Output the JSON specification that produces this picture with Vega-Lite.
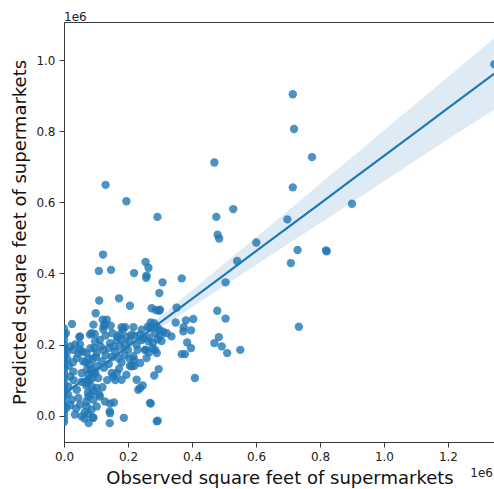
{
  "$schema": "https://vega.github.io/schema/vega-lite/v6.json",
  "width": 431,
  "height": 420,
  "autosize": {"type": "none"},
  "padding": {"left": 64, "top": 22, "right": 0, "bottom": 47},
  "config": {
    "font": "DejaVu Sans",
    "view": {"stroke": "#3a3a3a", "strokeWidth": 1},
    "axis": {
      "grid": false,
      "domainColor": "#3a3a3a",
      "tickColor": "#3a3a3a",
      "tickSize": 5,
      "labelFont": "DejaVu Sans",
      "labelFontSize": 12,
      "labelColor": "#222222",
      "labelPadding": 4,
      "labelFlush": false,
      "labelOverlap": false,
      "titleFont": "DejaVu Sans",
      "titleFontSize": 18,
      "titleFontWeight": "normal",
      "titleColor": "#111111"
    }
  },
  "title": {
    "text": "1e6",
    "anchor": "start",
    "frame": "group",
    "baseline": "alphabetic",
    "offset": 5,
    "dy": 16,
    "font": "DejaVu Sans",
    "fontSize": 12,
    "fontWeight": "normal",
    "color": "#222222"
  },
  "datasets": {
    "stores": [
      {"observed": 130000, "predicted": 649000}, {"observed": 195000, "predicted": 603000}, {"observed": 292000, "predicted": 559000},
      {"observed": 470000, "predicted": 712000}, {"observed": 476000, "predicted": 559000}, {"observed": 529000, "predicted": 581000},
      {"observed": 480000, "predicted": 509000}, {"observed": 485000, "predicted": 498000}, {"observed": 715000, "predicted": 904000},
      {"observed": 719000, "predicted": 806000}, {"observed": 775000, "predicted": 727000}, {"observed": 715000, "predicted": 642000},
      {"observed": 698000, "predicted": 552000}, {"observed": 900000, "predicted": 596000}, {"observed": 601000, "predicted": 487000},
      {"observed": 730000, "predicted": 466000}, {"observed": 819000, "predicted": 465000}, {"observed": 821000, "predicted": 462000},
      {"observed": 1345000, "predicted": 988000}, {"observed": 709000, "predicted": 429000}, {"observed": 734000, "predicted": 250000},
      {"observed": 551000, "predicted": 185000}, {"observed": 541000, "predicted": 435000},
      {"observed": 122000, "predicted": 453000}, {"observed": 109000, "predicted": 407000}, {"observed": 147000, "predicted": 410000},
      {"observed": 219000, "predicted": 401000}, {"observed": 255000, "predicted": 432000}, {"observed": 264000, "predicted": 416000},
      {"observed": 258000, "predicted": 394000}, {"observed": 257000, "predicted": 388000}, {"observed": 308000, "predicted": 375000},
      {"observed": 368000, "predicted": 386000}, {"observed": 505000, "predicted": 375000}, {"observed": 479000, "predicted": 295000},
      {"observed": 505000, "predicted": 273000}, {"observed": 404000, "predicted": 272000}, {"observed": 381000, "predicted": 268000},
      {"observed": 352000, "predicted": 304000}, {"observed": 349000, "predicted": 262000}, {"observed": 374000, "predicted": 249000},
      {"observed": 397000, "predicted": 240000}, {"observed": 336000, "predicted": 223000}, {"observed": 385000, "predicted": 206000},
      {"observed": 397000, "predicted": 190000}, {"observed": 368000, "predicted": 173000}, {"observed": 378000, "predicted": 173000},
      {"observed": 470000, "predicted": 204000}, {"observed": 484000, "predicted": 221000}, {"observed": 493000, "predicted": 195000},
      {"observed": 510000, "predicted": 176000}, {"observed": 409000, "predicted": 106000}, {"observed": 298000, "predicted": 345000},
      {"observed": 274000, "predicted": 302000}, {"observed": 297000, "predicted": 295000}, {"observed": 287000, "predicted": 297000},
      {"observed": 271000, "predicted": 262000}, {"observed": 262000, "predicted": 250000}, {"observed": 298000, "predicted": 242000},
      {"observed": 285000, "predicted": 185000}, {"observed": 296000, "predicted": 131000}, {"observed": 282000, "predicted": 113000},
      {"observed": 271000, "predicted": 34000}, {"observed": 293000, "predicted": -14000}, {"observed": 187000, "predicted": -6000},
      {"observed": 143000, "predicted": -21000}, {"observed": 77000, "predicted": -21000}, {"observed": 143000, "predicted": 12000},
      {"observed": 144000, "predicted": 34000}, {"observed": 156000, "predicted": 37000}, {"observed": 227000, "predicted": 101000},
      {"observed": 232000, "predicted": 73000}, {"observed": 246000, "predicted": 85000}, {"observed": 220000, "predicted": 140000},
      {"observed": 206000, "predicted": 140000}, {"observed": 219000, "predicted": 157000}, {"observed": 170000, "predicted": 162000},
      {"observed": 172000, "predicted": 132000}, {"observed": 154000, "predicted": 110000}, {"observed": 160000, "predicted": 100000},
      {"observed": 172000, "predicted": 330000}, {"observed": 206000, "predicted": 309000}, {"observed": 110000, "predicted": 324000},
      {"observed": 99000, "predicted": 288000}, {"observed": 25000, "predicted": 258000}, {"observed": 48000, "predicted": 221000},
      {"observed": 92000, "predicted": 256000}, {"observed": 121000, "predicted": 270000}, {"observed": 134000, "predicted": 270000},
      {"observed": 146000, "predicted": 253000}, {"observed": 124000, "predicted": 252000}, {"observed": 81000, "predicted": 228000},
      {"observed": 96000, "predicted": 230000}, {"observed": 151000, "predicted": 232000}, {"observed": 180000, "predicted": 249000},
      {"observed": 191000, "predicted": 249000}, {"observed": 217000, "predicted": 249000}, {"observed": 196000, "predicted": 222000},
      {"observed": 168000, "predicted": 222000}, {"observed": 6000, "predicted": 232000}, {"observed": 50000, "predicted": 223000},
      {"observed": 237000, "predicted": 228000}, {"observed": 175000, "predicted": 229000}, {"observed": 269000, "predicted": 246000},
      {"observed": 285000, "predicted": 232000}, {"observed": 300000, "predicted": 225000}, {"observed": 310000, "predicted": 236000},
      {"observed": 292000, "predicted": 215000}, {"observed": 278000, "predicted": 205000}, {"observed": 305000, "predicted": 210000},
      {"observed": 265000, "predicted": 220000}, {"observed": 290000, "predicted": 250000}, {"observed": 276000, "predicted": 190000},
      {"observed": 243000, "predicted": 213000}, {"observed": 255000, "predicted": 185000}, {"observed": 227000, "predicted": 199000},
      {"observed": 258000, "predicted": 162000}, {"observed": 266000, "predicted": 178000},
      {"observed": 300000, "predicted": 298000}, {"observed": 128000, "predicted": 258000}, {"observed": 123000, "predicted": 243000},
      {"observed": 185000, "predicted": 243000}, {"observed": 243000, "predicted": 242000}, {"observed": 282000, "predicted": 260000},
      {"observed": 373000, "predicted": 237000}, {"observed": 112000, "predicted": 213000}, {"observed": 144000, "predicted": 204000},
      {"observed": 165000, "predicted": 213000}, {"observed": 178000, "predicted": 215000}, {"observed": 211000, "predicted": 228000},
      {"observed": 248000, "predicted": 218000}, {"observed": 264000, "predicted": 209000}, {"observed": 321000, "predicted": 232000},
      {"observed": 253000, "predicted": 185000}, {"observed": 217000, "predicted": 167000}, {"observed": 211000, "predicted": 139000},
      {"observed": 238000, "predicted": 148000}, {"observed": 290000, "predicted": 176000}, {"observed": 149000, "predicted": 120000},
      {"observed": 180000, "predicted": 101000}, {"observed": 238000, "predicted": 78000}, {"observed": 123000, "predicted": 185000},
      {"observed": 102000, "predicted": 176000}, {"observed": 71000, "predicted": 176000}, {"observed": 50000, "predicted": 185000},
      {"observed": 29000, "predicted": 185000}, {"observed": 40000, "predicted": 162000}, {"observed": 60000, "predicted": 153000},
      {"observed": 81000, "predicted": 143000}, {"observed": 102000, "predicted": 139000}, {"observed": 118000, "predicted": 153000},
      {"observed": 92000, "predicted": 120000}, {"observed": 107000, "predicted": 106000}, {"observed": 76000, "predicted": 115000},
      {"observed": 71000, "predicted": 92000}, {"observed": 86000, "predicted": 82000}, {"observed": 102000, "predicted": 78000},
      {"observed": 19000, "predicted": 110000}, {"observed": 29000, "predicted": 124000}, {"observed": 13000, "predicted": 82000},
      {"observed": 40000, "predicted": 73000}, {"observed": 24000, "predicted": 45000}, {"observed": 50000, "predicted": 31000},
      {"observed": 76000, "predicted": 54000}, {"observed": 92000, "predicted": 45000}, {"observed": 112000, "predicted": 54000},
      {"observed": 71000, "predicted": 26000}, {"observed": 86000, "predicted": 17000}, {"observed": 102000, "predicted": 26000},
      {"observed": 8000, "predicted": 22000}, {"observed": 34000, "predicted": 3000}, {"observed": 55000, "predicted": -2000},
      {"observed": 92000, "predicted": -6000}, {"observed": 144000, "predicted": 7000}, {"observed": 269000, "predicted": 36000},
      {"observed": 290000, "predicted": -16000}, {"observed": 97000, "predicted": 209000}, {"observed": 86000, "predicted": 232000},
      {"observed": 0, "predicted": -18000}, {"observed": 0, "predicted": -8000}, {"observed": 0, "predicted": 5000},
      {"observed": 0, "predicted": 15000}, {"observed": 0, "predicted": 28000}, {"observed": 0, "predicted": 40000},
      {"observed": 0, "predicted": 55000}, {"observed": 0, "predicted": 68000}, {"observed": 0, "predicted": 80000},
      {"observed": 0, "predicted": 92000}, {"observed": 0, "predicted": 105000}, {"observed": 0, "predicted": 118000},
      {"observed": 0, "predicted": 130000}, {"observed": 0, "predicted": 142000}, {"observed": 0, "predicted": 155000},
      {"observed": 0, "predicted": 165000}, {"observed": 0, "predicted": 178000}, {"observed": 0, "predicted": 188000},
      {"observed": 0, "predicted": 200000}, {"observed": 0, "predicted": 215000}, {"observed": 0, "predicted": 228000},
      {"observed": 0, "predicted": 245000}, {"observed": 0, "predicted": 190000}, {"observed": 0, "predicted": 172000},
      {"observed": 65000, "predicted": 10000}, {"observed": 70000, "predicted": 40000}, {"observed": 75000, "predicted": 65000},
      {"observed": 80000, "predicted": 100000}, {"observed": 85000, "predicted": 130000}, {"observed": 90000, "predicted": 160000},
      {"observed": 95000, "predicted": 190000}, {"observed": 78000, "predicted": 160000}, {"observed": 72000, "predicted": 130000},
      {"observed": 88000, "predicted": 105000}, {"observed": 93000, "predicted": 70000}, {"observed": 68000, "predicted": 150000},
      {"observed": 83000, "predicted": 190000}, {"observed": 100000, "predicted": 165000}, {"observed": 75000, "predicted": 5000},
      {"observed": 90000, "predicted": -5000}, {"observed": 64000, "predicted": -8000}, {"observed": 98000, "predicted": 120000},
      {"observed": 84000, "predicted": 60000}, {"observed": 70000, "predicted": 85000},
      {"observed": 10000, "predicted": 180000}, {"observed": 20000, "predicted": 195000}, {"observed": 35000, "predicted": 200000},
      {"observed": 45000, "predicted": 175000}, {"observed": 15000, "predicted": 140000}, {"observed": 30000, "predicted": 100000},
      {"observed": 55000, "predicted": 120000}, {"observed": 12000, "predicted": 60000}, {"observed": 45000, "predicted": 50000},
      {"observed": 20000, "predicted": 30000}, {"observed": 38000, "predicted": 20000}, {"observed": 55000, "predicted": 95000},
      {"observed": 10000, "predicted": 160000}, {"observed": 28000, "predicted": 150000}, {"observed": 50000, "predicted": 200000},
      {"observed": 60000, "predicted": 180000},
      {"observed": 130000, "predicted": 225000}, {"observed": 140000, "predicted": 190000}, {"observed": 155000, "predicted": 195000},
      {"observed": 160000, "predicted": 180000}, {"observed": 175000, "predicted": 195000}, {"observed": 190000, "predicted": 200000},
      {"observed": 200000, "predicted": 185000}, {"observed": 190000, "predicted": 170000}, {"observed": 115000, "predicted": 195000},
      {"observed": 130000, "predicted": 170000}, {"observed": 125000, "predicted": 135000}, {"observed": 140000, "predicted": 145000},
      {"observed": 165000, "predicted": 120000}, {"observed": 195000, "predicted": 115000}, {"observed": 205000, "predicted": 160000},
      {"observed": 135000, "predicted": 100000}, {"observed": 120000, "predicted": 80000}, {"observed": 110000, "predicted": 60000},
      {"observed": 128000, "predicted": 40000}, {"observed": 180000, "predicted": 150000}, {"observed": 150000, "predicted": 165000},
      {"observed": 205000, "predicted": 210000}, {"observed": 230000, "predicted": 185000}, {"observed": 220000, "predicted": 225000}
    ],
    "fit": [
      {"observed": 0, "fit": 60500, "lower": 44000, "upper": 77000},
      {"observed": 100000, "fit": 127500, "lower": 116000, "upper": 139000},
      {"observed": 200000, "fit": 194500, "lower": 183000, "upper": 206000},
      {"observed": 300000, "fit": 261500, "lower": 245000, "upper": 278000},
      {"observed": 400000, "fit": 328500, "lower": 305000, "upper": 352000},
      {"observed": 500000, "fit": 395500, "lower": 364000, "upper": 427000},
      {"observed": 600000, "fit": 462500, "lower": 424000, "upper": 501000},
      {"observed": 700000, "fit": 529500, "lower": 483000, "upper": 576000},
      {"observed": 800000, "fit": 596500, "lower": 541000, "upper": 652000},
      {"observed": 900000, "fit": 663500, "lower": 600000, "upper": 727000},
      {"observed": 1000000, "fit": 730500, "lower": 659000, "upper": 802000},
      {"observed": 1100000, "fit": 797500, "lower": 718000, "upper": 877000},
      {"observed": 1200000, "fit": 864500, "lower": 777000, "upper": 952000},
      {"observed": 1345000, "fit": 961700, "lower": 861000, "upper": 1062000}
    ]
  },
  "layer": [
    {
      "data": {"name": "fit"},
      "mark": {"type": "area", "color": "#1f77b4", "opacity": 0.15, "clip": true},
      "encoding": {
        "x": {
          "field": "observed", "type": "quantitative",
          "scale": {"domain": [0, 1347000], "nice": false, "zero": false},
          "axis": {
            "title": "Observed square feet of supermarkets",
            "values": [0, 200000, 400000, 600000, 800000, 1000000, 1200000],
            "labelExpr": "format(datum.value / 1e6, '.1f')",
            "titleBaseline": "alphabetic",
            "titleX": 215.5,
            "titleY": 41
          }
        },
        "y": {
          "field": "lower", "type": "quantitative",
          "scale": {"domain": [-74000, 1107000], "nice": false, "zero": false},
          "axis": {
            "title": "Predicted square feet of supermarkets",
            "values": [0, 200000, 400000, 600000, 800000, 1000000],
            "labelExpr": "format(datum.value / 1e6, '.1f')",
            "titleBaseline": "alphabetic",
            "titleX": -39,
            "titleY": 210
          }
        },
        "y2": {"field": "upper"}
      }
    },
    {
      "data": {"name": "stores"},
      "mark": {"type": "circle", "color": "#1f77b4", "opacity": 0.8, "size": 70, "clip": true},
      "encoding": {
        "x": {"field": "observed", "type": "quantitative", "title": "Observed square feet of supermarkets"},
        "y": {"field": "predicted", "type": "quantitative", "title": "Predicted square feet of supermarkets"}
      }
    },
    {
      "data": {"name": "fit"},
      "mark": {"type": "line", "color": "#1f77b4", "strokeWidth": 2.2, "clip": true},
      "encoding": {
        "x": {"field": "observed", "type": "quantitative", "title": "Observed square feet of supermarkets"},
        "y": {"field": "fit", "type": "quantitative", "title": "Predicted square feet of supermarkets"}
      }
    },
    {
      "data": {"values": [{"label": "1e6"}]},
      "mark": {"type": "text", "align": "right", "baseline": "alphabetic", "dx": -2, "dy": 35, "fontSize": 12, "font": "DejaVu Sans", "color": "#222222"},
      "encoding": {
        "x": {"datum": 1347000, "type": "quantitative"},
        "y": {"datum": -74000, "type": "quantitative"},
        "text": {"field": "label"}
      }
    }
  ]
}
